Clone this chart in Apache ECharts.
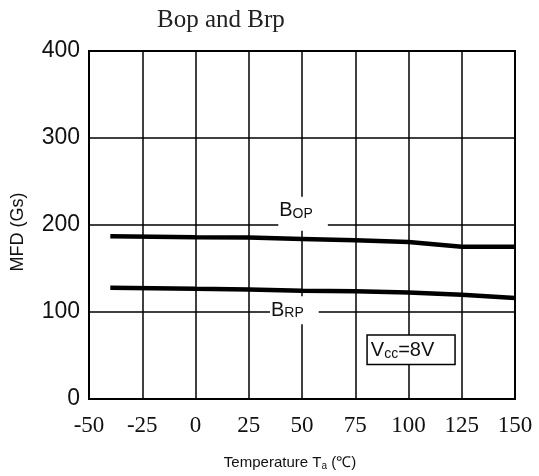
<!DOCTYPE html>
<html>
<head>
<meta charset="utf-8">
<script src="https://cdn.jsdelivr.net/npm/echarts@6/dist/echarts.min.js"></script>
<style>html,body{margin:0;padding:0;background:#fff;}#c{width:539px;height:476px;}</style>
</head>
<body>
<div id="c"></div>
<script>
var temps = [-40, 0, 25, 50, 75, 100, 125, 150];
var bop = [187, 186, 185.5, 184, 182.5, 180.5, 175, 175];
var brp = [128, 126.7, 126, 124.5, 123.8, 122.4, 119.8, 116];
var xTicks = {min: -50, max: 150, step: 25};
var yTicks = {min: 0, max: 400, step: 100};
var titleText = 'Bop and Brp';
var yName = 'MFD (Gs)';
var annBop = [50.5, 212.8];
var annBrp = [46.4, 102];
var annVcc = [101.2, 56.6];

function pairs(xs, ys){ return xs.map(function(x,i){ return [x, ys[i]]; }); }

var chart = echarts.init(document.getElementById('c'), null, {renderer:'canvas'});
chart.setOption({
  animation: false,
  backgroundColor: '#fff',
  title: {
    text: titleText, left: 152, top: 3,
    textStyle: {fontFamily: 'Liberation Serif', fontSize: 25, fontWeight: 'normal', color: '#222'}
  },
  grid: {left: 89, right: 24, top: 51, bottom: 77, show: true, borderColor: '#000', borderWidth: 2, backgroundColor: 'transparent'},
  xAxis: {
    type: 'value', min: xTicks.min, max: xTicks.max, interval: xTicks.step,
    axisLine: {onZero: false, lineStyle: {color: '#000', width: 2}},
    axisTick: {show: false},
    splitLine: {show: true, lineStyle: {color: '#000', width: 1.5}},
    axisLabel: {fontFamily: 'Liberation Serif', fontSize: 23, color: '#111', margin: 15},
    name: 'Temperature {s|T}{sub|a} (℃)', nameLocation: 'middle', nameGap: 56,
    nameTextStyle: {
      fontFamily: 'Liberation Sans', fontSize: 15, color: '#111', padding: [0, 24, 0, 0],
      rich: {s: {fontFamily: 'Liberation Sans', fontSize: 15, color: '#111'},
             sub: {fontFamily: 'Liberation Sans', fontSize: 10, color: '#111', verticalAlign: 'bottom', padding: [6,0,0,0]}}
    }
  },
  yAxis: {
    type: 'value', min: yTicks.min, max: yTicks.max, interval: yTicks.step,
    axisLine: {show: true, onZero: false, lineStyle: {color: '#000', width: 2}},
    axisTick: {show: false},
    splitLine: {show: true, lineStyle: {color: '#000', width: 1.5}},
    axisLabel: {fontFamily: 'Liberation Sans', fontSize: 23, color: '#111', margin: 9},
    name: yName, nameLocation: 'middle', nameGap: 62, nameRotate: 90,
    nameTextStyle: {fontFamily: 'Liberation Sans', fontSize: 18, color: '#111', padding: [0, 14, 0, 0]}
  },
  series: [
    {type: 'line', data: pairs(temps, bop), symbol: 'none', lineStyle: {color: '#000', width: 4.5}, z: 3},
    {type: 'line', data: pairs(temps, brp), symbol: 'none', lineStyle: {color: '#000', width: 4.5}, z: 3},
    {type: 'scatter', symbolSize: 0, z: 5, silent: true, itemStyle: {opacity: 1},
     data: [
       {value: annBop, label: {formatter: '{b|B}{s|OP}', padding: [2, 15, 10, 1]}},
       {value: annBrp, label: {formatter: '{b|B}{s|RP}', padding: [2, 15, 4, 1]}},
       {value: annVcc, label: {formatter: '{b|V}{s|cc}{b|=8V}', padding: [3, 20, 3, 3], borderColor: '#000', borderWidth: 1.5}}
     ],
     label: {
       show: true, position: 'inside', backgroundColor: '#fff', color: '#111', opacity: 1,
       rich: {
         b: {fontFamily: 'Liberation Sans', fontSize: 20, color: '#111', lineHeight: 22, verticalAlign: 'bottom'},
         s: {fontFamily: 'Liberation Sans', fontSize: 14, color: '#111', lineHeight: 22, verticalAlign: 'bottom', padding: [6,0,0,0]}
       }
     }
    }
  ]
});
</script>
</body>
</html>
